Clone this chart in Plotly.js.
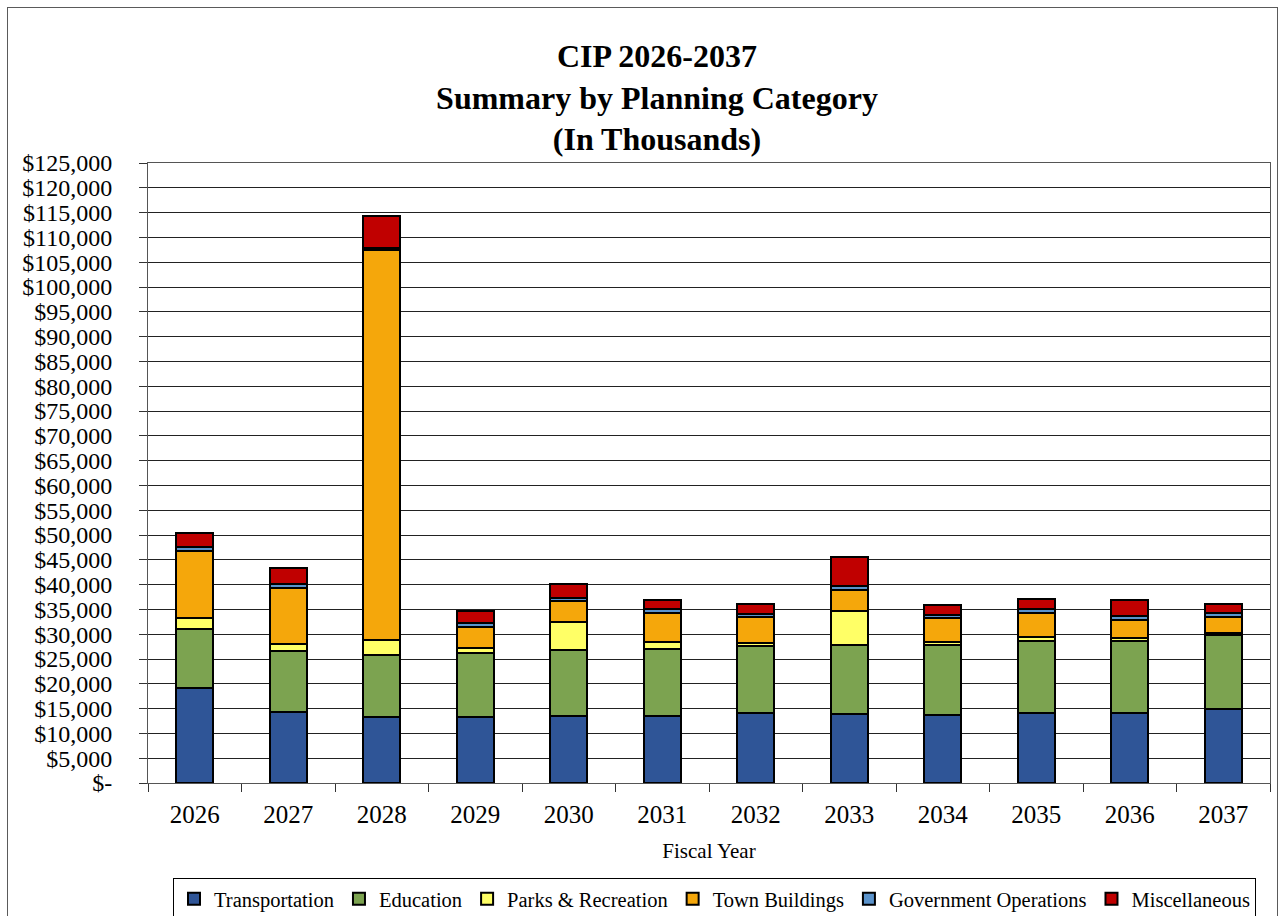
<!DOCTYPE html>
<html>
<head>
<meta charset="utf-8">
<script src="https://cdn.plot.ly/plotly-3.0.1.min.js"></script>
<style>
  html, body { margin: 0; padding: 0; background: #fff; }
  #wrap { position: relative; width: 1279px; height: 916px; overflow: hidden; }
  #chart { width: 1279px; height: 916px; }
  #frame { position: absolute; left: 7px; top: 7px; width: 1269px; height: 940px;
           border: 1.5px solid #5a5a5a; pointer-events: none; }
</style>
</head>
<body>
<div id="wrap">
  <div id="chart"></div>
  <div id="frame"></div>
</div>
<script>
// Fiscal years (categories)
const years = ["2026","2027","2028","2029","2030","2031","2032","2033","2034","2035","2036","2037"];

// Series values, in thousands of dollars
const transportation = [19200, 14300, 13300, 13300, 13600, 13600, 14100, 13900, 13700, 14200, 14100, 14900];
const education      = [11800, 12400, 12600, 12900, 13300, 13500, 13600, 13900, 14100, 14500, 14600, 14900];
const parksRecreation= [ 2200,  1300,  3000,  1000,  5500,  1400,   600,  6900,   700,   700,   500,   400];
const townBuildings  = [13600, 11300, 78500,  4300,  4200,  5800,  5200,  4300,  4700,  4900,  3600,  3300];
const governmentOps  = [  800,   900,   500,   800,   700,   800,   600,   800,   700,   800,   800,   800];
const miscellaneous  = [ 2900,  3100,  6500,  2400,  2800,  1700,  2000,  5800,  2000,  1900,  3200,  1800];

// Y-axis ticks
const yTickValues = [0,5000,10000,15000,20000,25000,30000,35000,40000,45000,50000,55000,60000,
                     65000,70000,75000,80000,85000,90000,95000,100000,105000,110000,115000,120000,125000];
const yTickLabels = ["$-","$5,000","$10,000","$15,000","$20,000","$25,000","$30,000","$35,000","$40,000",
                     "$45,000","$50,000","$55,000","$60,000","$65,000","$70,000","$75,000","$80,000",
                     "$85,000","$90,000","$95,000","$100,000","$105,000","$110,000","$115,000",
                     "$120,000","$125,000"];

const seriesNames  = ["Transportation","Education","Parks & Recreation","Town Buildings","Government Operations","Miscellaneous"];
const seriesData   = [transportation, education, parksRecreation, townBuildings, governmentOps, miscellaneous];
const seriesColors = ["#2F5597","#7CA350","#FFFF66","#F5A70B","#5B93CB","#C00000"];

const SERIF = "Liberation Serif, Times New Roman, serif";

const traces = seriesNames.map((name, i) => ({
  type: "bar",
  name: name,
  x: years,
  y: seriesData[i],
  marker: { color: seriesColors[i], line: { color: "#000", width: 2 } },
  hoverinfo: "x+y+name"
}));

const layout = {
  width: 1279,
  height: 916,
  paper_bgcolor: "#fff",
  plot_bgcolor: "#fff",
  barmode: "stack",
  bargap: 0.6,
  margin: { l: 148, r: 9, t: 163, b: 133, autoexpand: false },
  title: {
    text: "CIP 2026-2037<br>Summary by Planning Category<br>(In Thousands)",
    font: { family: SERIF, size: 32, color: "#000", weight: "bold" },
    x: 657 / 1279,
    xanchor: "center",
    xref: "container",
    yref: "container",
    y: 1 - 67 / 916,
    yanchor: "middle"
  },
  xaxis: {
    type: "category",
    tickson: "boundaries",
    ticks: "outside",
    ticklen: 8,
    tickcolor: "#333",
    tickwidth: 1,
    showline: true,
    linecolor: "#555",
    linewidth: 1,
    mirror: true,
    showgrid: false,
    tickfont: { family: SERIF, size: 25, color: "#000" },
    ticklabelstandoff: 9,
    title: { text: "Fiscal Year", font: { family: SERIF, size: 21, color: "#000" }, standoff: 16 },
    automargin: false,
    fixedrange: true
  },
  yaxis: {
    range: [0, 125000],
    tickmode: "array",
    tickvals: yTickValues,
    ticktext: yTickLabels,
    ticks: "outside",
    ticklen: 8,
    tickcolor: "#333",
    tickwidth: 1,
    showline: true,
    linecolor: "#555",
    linewidth: 1,
    mirror: true,
    showgrid: true,
    gridcolor: "#222",
    gridwidth: 1,
    zeroline: false,
    tickfont: { family: SERIF, size: 24, color: "#000" },
    ticklabelstandoff: 22,
    automargin: false,
    fixedrange: true
  },
  showlegend: true,
  legend: {
    orientation: "h",
    xref: "paper",
    yref: "paper",
    x: (173 - 148) / 1122,
    xanchor: "left",
    y: (783 - 878) / 620,
    yanchor: "top",
    bgcolor: "#fff",
    bordercolor: "#000",
    borderwidth: 1,
    font: { family: SERIF, size: 20.5, color: "#000" },
    traceorder: "normal"
  }
};

Plotly.newPlot("chart", traces, layout, { displayModeBar: false, staticPlot: true });
</script>
</body>
</html>
